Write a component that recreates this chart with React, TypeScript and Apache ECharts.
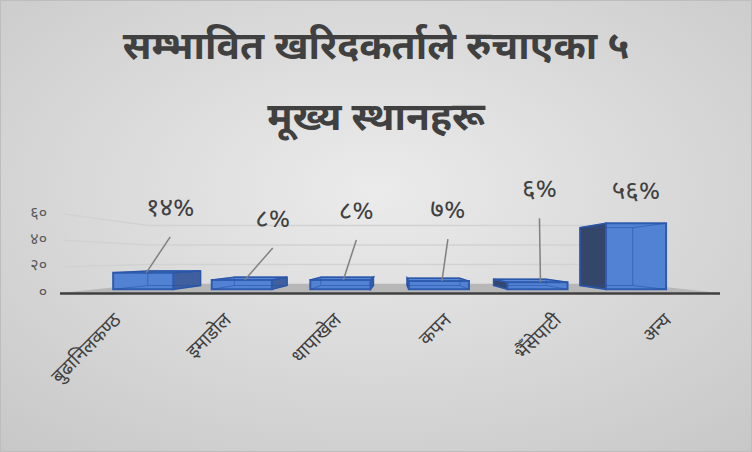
import React, { useEffect, useRef } from "react";
import * as echarts from "echarts";

// ---- data ----
const categories = ["बुढानिलकण्ठ", "इमाडोल", "धापाखेल", "कपन", "भैँसेपाटी", "अन्य"];
const shares = [14, 8, 8, 7, 6, 56];
const yTicks = [0, 20, 40, 60];
const titleText = "सम्भावित खरिदकर्ताले रुचाएका ५\nमूख्य स्थानहरू";

// ---- layout / style ----
const labelOffsets: number[][] = [
  [27, -63],
  [31, -59],
  [16, -67],
  [9, -69],
  [2, -91],
  [0, -30],
];
const VP = [395, 258];
const BAR_PLANE = 0.896;
const BAR_DEPTH = 0.877;
const WALL_PLANE = 0.7365;
const FONT = "'Noto Sans Devanagari', 'Lohit Devanagari', 'FreeSans', 'Noto Sans', sans-serif";

const DEV = "०१२३४५६७८९";
const toDev = (n: number | string) => String(n).replace(/[0-9]/g, (d) => DEV[+d]);
const proj = (p: number[], s: number) => [VP[0] + s * (p[0] - VP[0]), VP[1] + s * (p[1] - VP[1])];

export default function App() {
  const ref = useRef<HTMLDivElement>(null);
  useEffect(() => {
    if (!ref.current) return;
    const chart = echarts.init(ref.current, undefined, { renderer: "svg" });

    const wallData = yTicks.map((v) => [0, v]);
    const barData = shares.map((v, i) => [i, v]);

    const option: any = {
      animation: false,
      backgroundColor: {
        type: "radial",
        x: 0.5,
        y: 0.42,
        r: 0.75,
        colorStops: [
          { offset: 0, color: "#ebebeb" },
          { offset: 1, color: "#c8c8c8" },
        ],
      },
      title: {
        text: titleText,
        left: "center",
        top: 9,
        textStyle: {
          fontFamily: FONT,
          fontSize: 39,
          fontWeight: "bold",
          lineHeight: 71,
          color: "#404040",
        },
      },
      graphic: [
        {
          type: "rect",
          shape: { x: 0.5, y: 0.5, width: 751, height: 451 },
          style: { fill: "none", stroke: "#bdbdbd", lineWidth: 1 },
          silent: true,
        },
      ],
      grid: [
        { left: 59, width: 660, top: 214, height: 79 },
        { left: 64, width: 660, top: 214, height: 79 },
      ],
      xAxis: [
        { type: "category", gridIndex: 0, data: categories, show: false },
        {
          type: "category",
          gridIndex: 1,
          data: categories,
          axisLine: { show: false },
          axisTick: { show: false },
          axisLabel: {
            rotate: 45,
            margin: 25,
            fontSize: 19,
            color: "#404040",
            fontFamily: FONT,
            interval: 0,
          },
        },
      ],
      yAxis: [
        {
          type: "value",
          gridIndex: 0,
          min: 0,
          max: 60,
          interval: 20,
          axisLine: { show: false },
          axisTick: { show: false },
          splitLine: { show: false },
          axisLabel: {
            margin: 12,
            fontSize: 16,
            color: "#595959",
            fontFamily: FONT,
            formatter: (v: number) => toDev(v),
          },
        },
        { type: "value", gridIndex: 1, show: false, min: 0, max: 60 },
      ],
      series: [
        {
          type: "custom",
          xAxisIndex: 0,
          yAxisIndex: 0,
          silent: true,
          data: wallData,
          renderItem: (params: any, api: any) => {
            const v = api.value(1);
            const cs = params.coordSys;
            const y = api.coord([0, v])[1];
            const fl = [cs.x + 1, y];
            const fr = [cs.x + cs.width + 1, y];
            const bl = proj(fl, WALL_PLANE);
            const br = proj(fr, WALL_PLANE);
            if (v === 0) {
              return {
                type: "group",
                children: [
                  {
                    type: "polygon",
                    shape: { points: [fl, bl, br, fr] },
                    style: { fill: "#b7b7b7" },
                  },
                  {
                    type: "line",
                    shape: { x1: fl[0], y1: y + 0.5, x2: fr[0], y2: y + 0.5 },
                    style: { stroke: "#404040", lineWidth: 2.5 },
                  },
                ],
              };
            }
            return {
              type: "polyline",
              shape: { points: [[fl[0] + 4, y], bl, br] },
              style: { stroke: "#d2d2d2", lineWidth: 1.5, fill: "none" },
            };
          },
        },
        {
          type: "custom",
          xAxisIndex: 0,
          yAxisIndex: 0,
          silent: true,
          data: barData,
          renderItem: (params: any, api: any) => {
            const i = api.value(0);
            const v = api.value(1);
            const band = api.size([1, 0])[0];
            const hw = band * 0.305;
            const b = api.coord([i, 0]);
            const t = api.coord([i, v]);
            const P = (x: number, y: number) => proj([x, y], BAR_PLANE);
            const fTL = P(b[0] - hw, t[1]);
            const fTR = P(b[0] + hw, t[1]);
            const fBL = P(b[0] - hw, b[1]);
            const fBR = P(b[0] + hw, b[1]);
            const bk = (p: number[]) => proj(p, BAR_DEPTH);
            const bTL = bk(fTL);
            const bTR = bk(fTR);
            const bBL = bk(fBL);
            const bBR = bk(fBR);
            const edge = "#2f5cb0";
            const children: any[] = [];
            children.push({
              type: "polygon",
              shape: { points: [bTL, bTR, bBR, bBL] },
              style: { fill: "#4a78c8", stroke: edge, lineWidth: 1 },
            });
            const cx = (fTL[0] + fTR[0]) / 2;
            if (cx < VP[0]) {
              children.push({
                type: "polygon",
                shape: { points: [fTR, bTR, bBR, fBR] },
                style: { fill: "#3f5f9f", stroke: edge, lineWidth: 1.5 },
              });
            } else {
              children.push({
                type: "polygon",
                shape: { points: [fTL, bTL, bBL, fBL] },
                style: { fill: "#35466b", stroke: edge, lineWidth: 1.5 },
              });
            }
            if (fTL[1] > VP[1]) {
              children.push({
                type: "polygon",
                shape: { points: [fTL, fTR, bTR, bTL] },
                style: { fill: "#5b88d6", stroke: edge, lineWidth: 1.5 },
              });
            }
            children.push({
              type: "polygon",
              shape: { points: [fTL, fTR, fBR, fBL] },
              style: { fill: "#5282d3", stroke: edge, lineWidth: 2 },
            });
            const hidden = "rgba(40,80,160,0.55)";
            children.push({
              type: "polyline",
              shape: { points: [bTL, bBL, bBR, bTR, bTL] },
              style: { stroke: hidden, lineWidth: 1, fill: "none" },
            });
            [
              [fBL, bBL],
              [fBR, bBR],
              [fTR, bTR],
              [fTL, bTL],
            ].forEach(([a, c]) =>
              children.push({
                type: "line",
                shape: { x1: a[0], y1: a[1], x2: c[0], y2: c[1] },
                style: { stroke: hidden, lineWidth: 1 },
              })
            );
            const off = labelOffsets[params.dataIndex] || [0, -30];
            const lx = cx + off[0];
            const ly = fTL[1] + off[1];
            const sy = ly + 27;
            if (fTL[1] - sy > 8) {
              children.push({
                type: "line",
                shape: { x1: lx, y1: sy, x2: cx + 3, y2: fTL[1] },
                style: { stroke: "#808080", lineWidth: 1.5 },
              });
            }
            children.push({
              type: "text",
              style: {
                text: toDev(v) + "%",
                x: lx,
                y: ly,
                fill: "#404040",
                fontSize: 26,
                fontFamily: FONT,
                align: "center",
                verticalAlign: "middle",
              },
            });
            return { type: "group", children };
          },
        },
      ],
    };
    chart.setOption(option);
    return () => chart.dispose();
  }, []);
  return (
    <div
      ref={ref}
      style={{ position: "absolute", left: 0, top: 0, width: 752, height: 452 }}
    />
  );
}
